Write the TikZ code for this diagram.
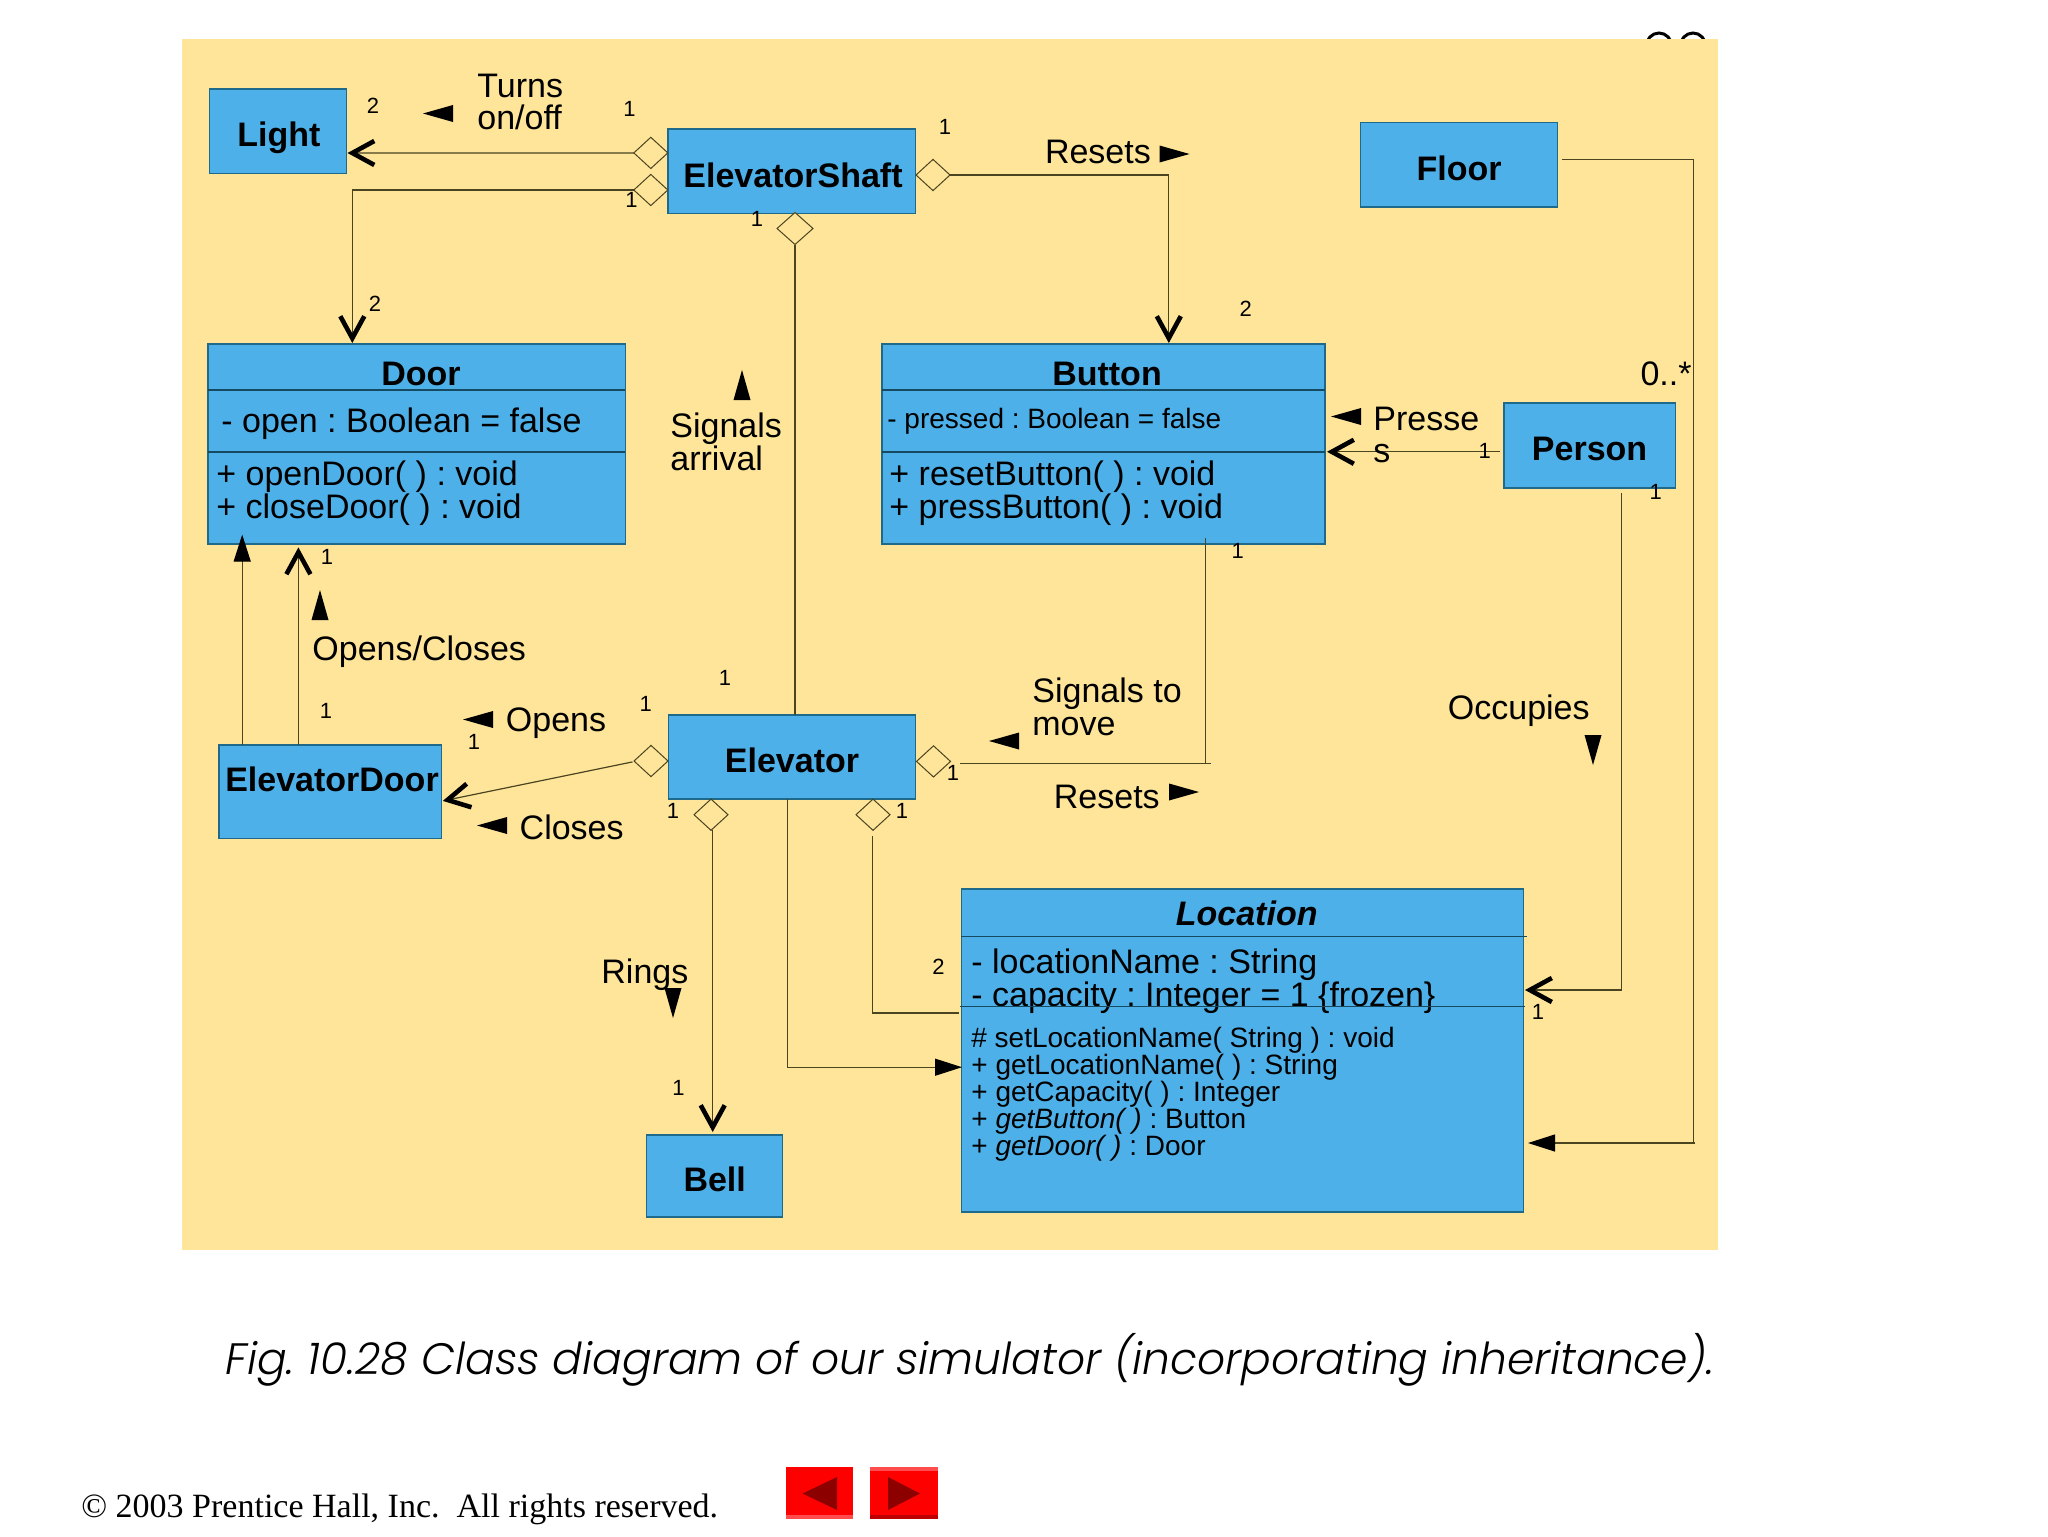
\documentclass[tikz,border=0pt]{standalone}
\usepackage{fontspec}
\usepackage{tikz}
\usetikzlibrary{arrows.meta,shapes.geometric}
\setmainfont{Liberation Sans}
\newfontfamily\capfont[ItalicFont={Poppins Light Italic}]{Poppins Light}
\newfontfamily\notefont{Liberation Serif}
\frenchspacing
\definecolor{bgcol}{HTML}{FEE59A}
\definecolor{boxcol}{HTML}{4DB0E8}
\definecolor{edgecol}{HTML}{1F6A8A}
\definecolor{linecol}{HTML}{4A4420}
\tikzset{
    cls/.style={draw=edgecol, fill=boxcol, line width=0.7pt, inner sep=0pt, outer sep=0pt},
    dia/.style={diamond, draw=linecol, fill=bgcol, line width=0.5pt, inner sep=0pt, outer sep=0pt,
        minimum width=17pt, minimum height=15.6pt},
    divline/.style={draw=edgecol!70!black, line width=0.7pt},
    lbl/.style={font=\fontsize{17}{16.4}\selectfont, align=left, anchor=west, inner sep=0pt},
    sml/.style={font=\fontsize{14}{13.5}\selectfont, align=left, anchor=west, inner sep=0pt},
    ttl/.style={font=\fontsize{17}{17}\selectfont\bfseries, inner sep=0pt},
    mult/.style={font=\fontsize{11}{11}\selectfont, inner sep=0pt},
    assoc/.style={draw=linecol, line width=0.6pt},
    opena/.style={assoc, -{Straight Barb[length=11pt,width=12pt,line width=2.3pt,black]}},
    solida/.style={assoc, -{Triangle[length=13.5pt,width=8.5pt,black]}},
}
% small solid triangle next to an association name
\newcommand{\dirtri}[3]{\fill[shift={(#1,#2)},rotate=#3] (15,0) -- (-15,8.5) -- (-15,-8.5) -- cycle;}

\begin{document}
\begin{tikzpicture}[x=0.5pt,y=-0.5pt]
    \path[use as bounding box] (0,0) rectangle (2048,1536);

    % Page number cut off by the panel
    \draw[line width=1.5pt] (1659,47) ellipse (13 and 14);
    \draw[line width=1.5pt] (1693,47) ellipse (13 and 14);

    % Panel
    \fill[bgcol] (182,39) rectangle (1718,1250);

    % Classes
    \node[cls, minimum width=68.6pt, minimum height=42.3pt] (light) at (278,131.3) {};
    \node[ttl] (lightT) at (279,137.5) {Light};
    \node[cls, minimum width=123.8pt, minimum height=42.3pt] (shaft) at (791.8,171.3) {};
    \node[ttl] (shaftT) at (793,175) {ElevatorShaft};
    \node[cls, minimum width=98.4pt, minimum height=42.2pt] (floor) at (1459,164.6) {};
    \node[ttl] (floorT) at (1459,168) {Floor};
    \node[cls, minimum width=85.8pt, minimum height=42.5pt] (person) at (1589.8,445.4) {};
    \node[ttl] (personT) at (1589.6,449) {Person};
    \node[cls, minimum width=123.7pt, minimum height=42pt] (elevator) at (792,757) {};
    \node[ttl] (elevatorT) at (792,760) {Elevator};
    \node[cls, minimum width=111.4pt, minimum height=46.8pt] (edoor) at (330.2,791.7) {};
    \node[ttl] (edoorT) at (332,779) {ElevatorDoor};
    \node[cls, minimum width=68.1pt, minimum height=41pt] (bell) at (714.5,1176) {};
    \node[ttl] (bellT) at (714.7,1179) {Bell};

    % Door
    \node[cls, minimum width=208.6pt, minimum height=100pt] (door) at (416.6,444) {};
    \draw[divline] (door.west |- 0,390) -- (door.east |- 0,390);
    \draw[divline] (door.west |- 0,452) -- (door.east |- 0,452);
    \node[ttl] (doorT) at (421,374) {Door};
    \node[lbl] (doorA) at (221,424) {- open : Boolean = false};
    \node[lbl] (doorM) at (216,493) {+ openDoor( ) : void\\+ closeDoor( ) : void};

    % Button
    \node[cls, minimum width=221.6pt, minimum height=100pt] (button) at (1103.4,444) {};
    \draw[divline] (button.west |- 0,390) -- (button.east |- 0,390);
    \draw[divline] (button.west |- 0,452) -- (button.east |- 0,452);
    \node[ttl] (buttonT) at (1107,374) {Button};
    \node[sml] (buttonA) at (887,421) {- pressed : Boolean = false};
    \node[lbl] (buttonM) at (889,493) {+ resetButton( ) : void\\+ pressButton( ) : void};

    % Location
    \node[cls, minimum width=281.2pt, minimum height=161.5pt] (location) at (1242.5,1050.5) {};
    \draw[divline, line width=0.6pt] (location.west |- 0,936.6) -- (1527,936.6);
    \node[font=\fontsize{17}{17}\selectfont\bfseries\itshape, inner sep=0pt] (locationT) at (1246.7,913) {Location};
    \node[lbl] (locationA) at (971,981) {- locationName : String\\- capacity : Integer = 1 \{frozen\}};
    \draw[divline, line width=0.6pt] (960,1006.5) -- (1525,1006.5);
    \node[sml] (locationM) at (971,1094.5) {\# setLocationName( String ) : void\\+ getLocationName( ) : String\\+ getCapacity( ) : Integer\\+ \textit{getButton( )} : Button\\+ \textit{getDoor( )} : Door};

    % Diamonds
    \node[dia] (dLight) at (650.8,152.9) {};
    \node[dia] (dDoor) at (650.8,190) {};
    \node[dia, minimum width=18pt, minimum height=16pt] (dElev) at (795,228.5) {};
    \node[dia] (dBtn) at (933,175) {};
    \node[dia] (dEdoor) at (651,761) {};
    \node[dia] (dReset) at (933.5,761.4) {};
    \node[dia] (dBell) at (711,814.7) {};
    \node[dia] (dLoc) at (873,814.7) {};

    % Free ends of the connectors
    \coordinate (doorIn) at (352.3,343);
    \coordinate (btnIn) at (1168.8,343);
    \coordinate (lightIn) at (347.5,153);
    \coordinate (perOut) at (1500,451.8);
    \coordinate (btnPer) at (1327,451.8);
    \coordinate (perDown) at (1621.8,493);
    \coordinate (locPer) at (1525,990);
    \coordinate (floorOut) at (1561.5,159.6);
    \coordinate (floorCnr) at (1693.5,159.6);
    \coordinate (floorEnd) at (1695.4,1143);
    \coordinate (locFloor) at (1528,1143);
    \coordinate (btnDown) at (1205.6,538);
    \coordinate (btnCnr) at (1205.6,763.4);
    \coordinate (rstOut) at (960.3,763.4);
    \coordinate (rstEnd) at (1210.5,763.4);
    \coordinate (eDown) at (787.7,799);
    \coordinate (locIn) at (962,1067.2);
    \coordinate (dLocOut) at (872.4,836);
    \coordinate (locAgg) at (959,1013);
    \coordinate (bellIn) at (712.7,1132);
    \coordinate (edoorIn) at (442.8,800.9);
    \coordinate (dEdoorOut) at (632.5,761.9);
    \coordinate (eda) at (242.2,744.9);
    \coordinate (edaEnd) at (242.2,534.6);
    \coordinate (edb) at (298.4,744.9);
    \coordinate (edbEnd) at (298.4,547.4);

    % Connectors
    \draw[opena] (dLight.west) -- (lightIn);
    \draw[opena] (dDoor.west) -| (doorIn);
    \draw[opena] (dBtn.east) -| (btnIn);
    \draw[assoc] (dElev.south) -- (dElev.south |- elevator.north);
    \draw[opena] (perOut) -- (btnPer);
    \draw[opena] (perDown) |- (locPer);
    \draw[assoc] (floorOut) -- (floorCnr) -- (floorCnr |- floorEnd);
    \draw[solida] (floorEnd) -- (locFloor);
    \draw[assoc] (btnDown) -- (btnCnr);
    \draw[assoc] (rstOut) -- (rstEnd);
    \draw[solida] (eDown) |- (locIn);
    \draw[assoc] (dLocOut) |- (locAgg);
    \draw[opena] (dBell.south -| bellIn) -- (bellIn);
    \draw[opena] (dEdoorOut) -- (edoorIn);
    \draw[solida] (eda) -- (edaEnd);
    \draw[opena] (edb) -- (edbEnd);

    % Association names
    \node[lbl] (turns) at (477,102) {Turns\\on/off};
    \dirtri{438}{113.5}{180}
    \node[lbl] (resetsA) at (1044.6,152) {Resets};
    \dirtri{1174.5}{154}{0}
    \node[lbl] (arrival) at (670,442) {Signals\\arrival};
    \dirtri{742}{385}{90}
    \node[lbl] (presses) at (1373,435) {Presse\\s};
    \dirtri{1346}{416.5}{180}
    \node[lbl] (occupies) at (1447.5,710.5) {Occupies};
    \dirtri{1593}{750}{270}
    \node[lbl] (opencl) at (312,651.5) {Opens/Closes};
    \dirtri{320}{605}{90}
    \node[lbl] (opens) at (505.5,723) {Opens};
    \dirtri{478}{719.5}{180}
    \node[lbl] (closes) at (519.3,827) {Closes};
    \dirtri{492}{825.5}{180}
    \node[lbl] (tomove) at (1032,707) {Signals to\\move};
    \dirtri{1004}{741}{180}
    \node[lbl] (resetsB) at (1053.5,797) {Resets};
    \dirtri{1184}{792}{0}
    \node[lbl] (rings) at (601,975) {Rings};
    \dirtri{673}{1003}{270}

    % Multiplicities
    \node[mult] (m1) at (373,106) {2};
    \node[mult] (m2) at (629.4,109) {1};
    \node[mult] (m3) at (631.4,200) {1};
    \node[mult] (m4) at (757,219) {1};
    \node[mult] (m5) at (945,127) {1};
    \node[mult] (m6) at (375,304) {2};
    \node[mult] (m7) at (1245.8,309) {2};
    \node[lbl, anchor=center] (m8) at (1666,374) {0..*};
    \node[mult] (m9) at (1484.6,451) {1};
    \node[mult] (m10) at (1655.6,492) {1};
    \node[mult] (m11) at (1237.7,551) {1};
    \node[mult] (m12) at (327,557) {1};
    \node[mult] (m13) at (326,711) {1};
    \node[mult] (m14) at (474,742) {1};
    \node[mult] (m15) at (645.8,704) {1};
    \node[mult] (m16) at (725,678) {1};
    \node[mult] (m17) at (953,772.5) {1};
    \node[mult] (m18) at (673,811) {1};
    \node[mult] (m19) at (902,811) {1};
    \node[mult] (m20) at (938.4,967) {2};
    \node[mult] (m21) at (1538,1012) {1};
    \node[mult] (m22) at (678.5,1088) {1};

    % Caption and footer
    \node[font=\fontsize{22}{24}\capfont\itshape, anchor=west, inner sep=0pt] (caption) at (225,1360)
        {Fig. 10.28 Class diagram of our simulator (incorporating inheritance).};
    \node[font=\fontsize{17}{18}\notefont, anchor=base west, inner sep=0pt] (note) at (81,1517)
        {© 2003 Prentice Hall, Inc.\ \ All rights reserved.};

    % Navigation buttons
    \node[fill=red, inner sep=0pt, minimum width=33.3pt, minimum height=26pt] (prevbtn) at (819.3,1493) {};
    \fill[red!70!white] (prevbtn.south west) rectangle ([yshift=2pt]prevbtn.south east);
    \fill[red!55!black] (802.6,1493.5) -- (837,1477) -- (837,1510) -- cycle;
    \node[fill=red, inner sep=0pt, minimum width=34pt, minimum height=26pt] (nextbtn) at (904,1493) {};
    \fill[red!70!white] ([yshift=-2pt]nextbtn.north west) rectangle (nextbtn.north east);
    \fill[red!75!black] (nextbtn.south west) rectangle ([yshift=2pt]nextbtn.south east);
    \fill[red!55!black] (920,1493.5) -- (888,1477) -- (888,1510) -- cycle;
\end{tikzpicture}
\end{document}
